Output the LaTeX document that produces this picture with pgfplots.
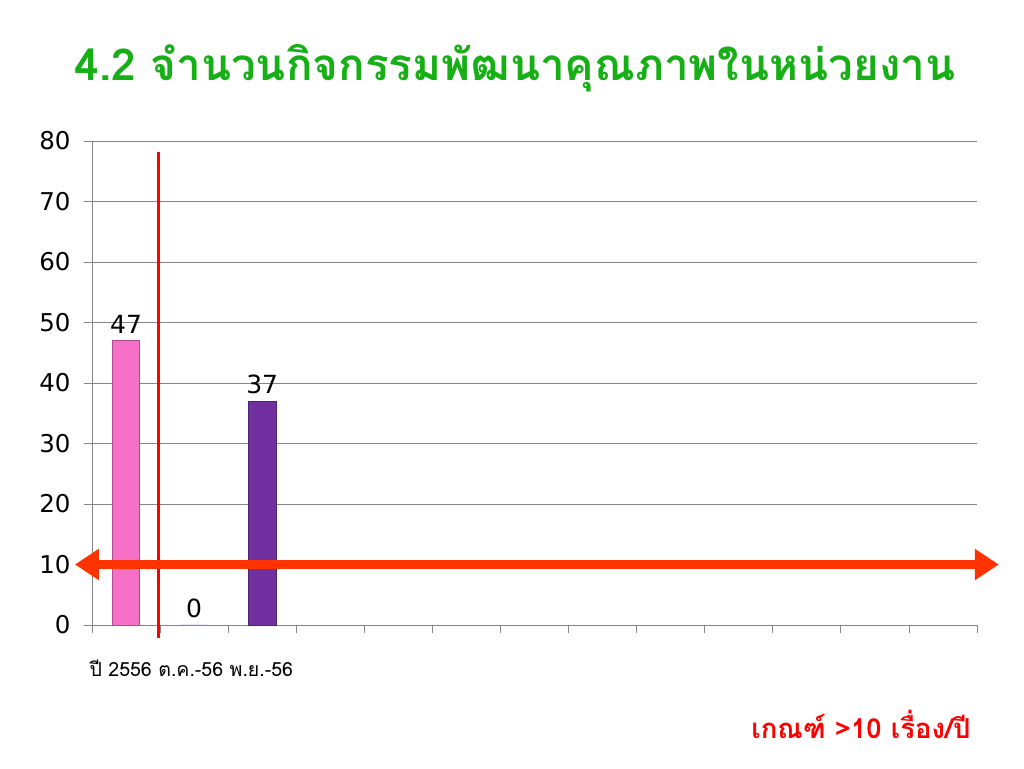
\documentclass[border=0pt]{standalone}
\usepackage{pgfplots}
\pgfplotsset{compat=1.18}
\usepackage{fontspec}
\setmainfont[Script=Thai]{Loma}
\newfontfamily\numfont{DejaVu Sans}
\usetikzlibrary{arrows.meta}
\definecolor{titlegreen}{RGB}{22,176,22}
\definecolor{barpink}{RGB}{246,112,200}
\definecolor{barpurple}{RGB}{112,48,160}
\definecolor{arrowred}{RGB}{255,51,0}
\definecolor{gridgray}{RGB}{134,134,134}
\begin{document}
\begin{tikzpicture}
\path[use as bounding box] (0,0) rectangle (1024pt,768pt);
\node[anchor=center, text=titlegreen, font=\fontsize{44}{50}\selectfont\bfseries] at (515pt,700pt) {4.2 จำนวนกิจกรรมพัฒนาคุณภาพในหน่วยงาน};
\begin{axis}[
  at={(92pt,143pt)}, anchor=south west,
  width=885pt, height=484pt, scale only axis,
  xmin=-0.5, xmax=12.5, ymin=0, ymax=80,
  ytick={0,10,...,80},
  xtick={-0.5,0.5,...,12.5}, xticklabels={},
  ymajorgrids, major grid style={gridgray, line width=0.8pt},
  axis x line*=bottom, axis y line*=left,
  axis line style={gridgray, line width=0.8pt},
  tick style={gridgray, line width=0.8pt},
  tick align=outside, major tick length=8pt,
  y axis line style={-}, x axis line style={-},
  /pgf/number format/assume math mode=true,
  yticklabel style={font=\numfont\fontsize{24.5}{28}\selectfont, xshift=-10pt},
  ybar, bar width=0.4, bar shift=0pt,
  nodes near coords,
  every node near coord/.append style={font=\numfont\fontsize{25}{28}\selectfont, text=black, /pgf/number format/assume math mode=true, yshift=4pt},
  clip=false,
]
\addplot[fill=barpink, draw=barpink!70!black] coordinates {(0,47)};
\addplot[fill=barpurple, draw=none] coordinates {(1,0)};
\addplot[fill=barpurple, draw=barpurple!70!black] coordinates {(2,37)};
\draw[red, line width=3pt] (axis cs:0.47,78.2) -- (axis cs:0.47,-2.2);
\draw[arrowred, line width=9pt, {Triangle[length=24pt,width=30pt]}-{Triangle[length=24pt,width=30pt]}] (axis cs:-0.75,10) -- (axis cs:12.82,10);
\end{axis}
\node[anchor=west, font=\fontsize{19.5}{23}\selectfont] at (86pt,100pt) {ปี 2556 ต.ค.-56 พ.ย.-56};
\node[anchor=east, text=red, font=\fontsize{27.5}{32}\selectfont\bfseries] at (974pt,44pt) {เกณฑ์ >10 เรื่อง/ปี};
\end{tikzpicture}
\end{document}
